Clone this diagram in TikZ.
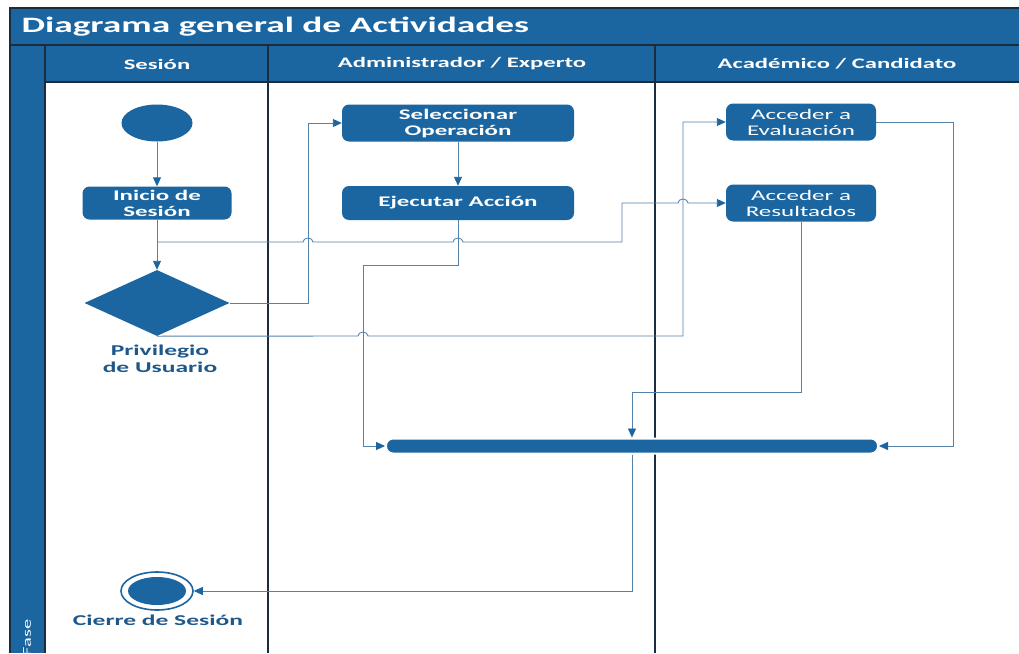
\documentclass[tikz,border=0pt]{standalone}
\usepackage{fontspec}
\setmainfont{Carlito}[FakeStretch=1.7]
\usetikzlibrary{shapes.geometric,arrows.meta}
\definecolor{mblue}{RGB}{27,101,160}
\definecolor{dline}{RGB}{25,45,62}
\definecolor{cline}{RGB}{84,130,170}
\definecolor{tblue}{RGB}{30,88,138}
\tikzset{
  act/.style={fill=mblue,rounded corners=7pt,text=white,align=center,inner sep=0pt,
    minimum width=149,minimum height=33,font=\bfseries\fontsize{14.7}{16}\selectfont},
  actn/.style={act,font=\fontsize{14.7}{16}\selectfont},
  conn/.style={draw=cline,line width=0.9pt},
  arr/.style={conn,-{Triangle[length=9pt,width=8pt,color=mblue]}},
  lbl/.style={text=tblue,align=center,font=\bfseries\fontsize{15}{16.5}\selectfont},
  hdr/.style={text=white,font=\bfseries\fontsize{14.5}{16}\selectfont}
}
\begin{document}
\begin{tikzpicture}[x=1pt,y=-1pt]
\useasboundingbox (0,0) rectangle (1019,653);
\clip (0,0) rectangle (1019,653);
\fill[white] (0,0) rectangle (1019,653);
% frame
\fill[mblue] (10,8) rectangle (1019,45);
\fill[mblue] (45,45) rectangle (1019,82);
\fill[mblue] (10,45) rectangle (45,653);
\draw[dline,line width=1.2pt] (10,653) -- (10,8) -- (1019,8);
\draw[dline,line width=1.2pt] (10,45) -- (1019,45);
\draw[dline,line width=1.5pt] (45,45) -- (45,653);
\draw[dline,line width=1.5pt] (45,82) -- (1019,82);
\draw[dline,line width=2.5pt] (268,45) -- (268,653);
\draw[dline,line width=2.5pt] (655,45) -- (655,653);
\node[anchor=west,text=white,font=\bfseries\fontsize{22}{24}\selectfont] (title) at (18,27) {Diagrama general de Actividades};
\node[hdr] (h1) at (157,64) {Sesión};
\node[hdr] (h2) at (462,64) {Administrador / Experto};
\node[hdr] (h3) at (837,64) {Académico / Candidato};
\node[rotate=90,anchor=west,text=white,font=\fontsize{12}{14}\selectfont] (fase) at (27,660) {Fase};
% nodes
\node[ellipse,fill=mblue,minimum width=71,minimum height=37,inner sep=0pt] (start) at (157,123) {};
\node[act] (inicio) at (157,203) {Inicio de\\Sesión};
\node[diamond,fill=mblue,minimum width=145,minimum height=66,inner sep=0pt] (dec) at (157,303) {};
\node[lbl] (declbl) at (160,359) {Privilegio\\de Usuario};
\node[act,minimum width=232,minimum height=37] (sel) at (458,123) {Seleccionar\\Operación};
\node[act,minimum width=232,minimum height=34] (eje) at (458,203) {Ejecutar Acción};
\node[actn,minimum width=150,minimum height=37] (eva) at (801,122) {Acceder a\\Evaluación};
\node[actn,minimum width=150,minimum height=37] (res) at (801,203) {Acceder a\\Resultados};
\node[fill=mblue,draw=white,line width=2pt,rounded corners=7pt,minimum width=492,minimum height=15,inner sep=0pt] (bar) at (632,446) {};
\node[ellipse,draw=mblue,line width=1.6pt,fill=white,minimum width=72,minimum height=38,inner sep=0pt] (fin) at (157,591) {};
\node[ellipse,fill=mblue,minimum width=58,minimum height=28,inner sep=0pt] (finin) at (157,591) {};
\node[lbl] (finlbl) at (158,620) {Cierre de Sesión};
\coordinate (j1) at (157,242);
% connectors
\draw[arr] (start) -- (inicio);
\draw[arr] (inicio) -- (dec);
\draw[arr] (j1) -- (303,242) arc[start angle=180,end angle=360,x radius=5,y radius=4]
  -- (453,242) arc[start angle=180,end angle=360,x radius=5,y radius=4]
  -- (622,242) -- (622,203) -- (678,203) arc[start angle=180,end angle=360,x radius=5,y radius=4]
  -- (res.west);
\draw[arr] (dec.east) -- (308,303) -- (308,123) -- (sel.west);
\draw[arr] (sel) -- (eje);
\draw[arr] (eje.south) -- (458,265) -- (363,265) -- (363,446) -- (bar.west);
\draw[arr] (dec.south) -- (358,336) arc[start angle=180,end angle=360,x radius=5,y radius=4]
  -- (683,336) -- (683,122) -- (eva.west);
\draw[arr] (eva.east) -- (953,122) -- (953,446) -- (bar.east);
\draw[arr] (res.south) -- (801,392) -- (632,392) -- (bar.north);
\draw[arr] (bar.south) -- (632,591) -- (fin.east);
\end{tikzpicture}
\end{document}
